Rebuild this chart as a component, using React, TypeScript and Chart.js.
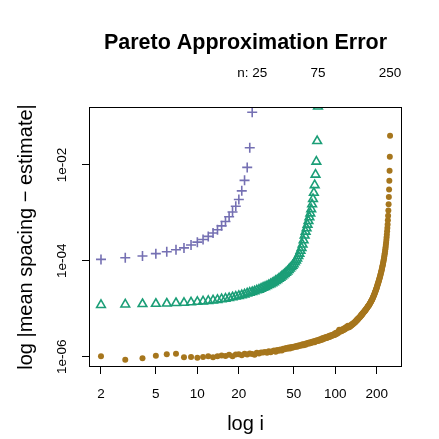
import React, { useEffect, useRef } from "react";
import { Chart, registerables } from "chart.js";

Chart.register(...registerables);

// ---- text ----
const TITLE = "Pareto Approximation Error";
const X_TITLE = "log i";
const Y_TITLE = "log |mean spacing \u2212 estimate|";

// ---- categories / ticks ----
const FIRST_INDEX = 2;
const SAMPLE_SIZES = [25, 75, 250];
const TOP_TICK_LABELS = ["n: 25", "75", "250"];
const X_TICKS = [2, 5, 10, 20, 50, 100, 200];
const X_TICK_LABELS = ["2", "5", "10", "20", "50", "100", "200"];
const Y_TICKS = [1e-6, 1e-4, 1e-2];
const Y_TICK_LABELS = ["1e-06", "1e-04", "1e-02"];
const X_LIMITS = [1.637, 305.2];
const Y_LIMITS_LOG10 = [-6.215, -0.79];

// ---- series: log10 |mean spacing - estimate| for i = 2 .. n ----
const LOG_ERR_N25 = [
  -3.97, -3.935, -3.9, -3.85, -3.81, -3.77, -3.73, -3.67, -3.61, -3.555,
  -3.49, -3.42, -3.35, -3.27, -3.18, -3.08, -2.98, -2.86, -2.72, -2.54,
  -2.32, -2.05, -1.64, -0.9,
];

const LOG_ERR_N75 = [
  -4.92, -4.91, -4.9, -4.895, -4.89, -4.88, -4.875, -4.865, -4.855, -4.845,
  -4.835, -4.825, -4.815, -4.8, -4.79, -4.775, -4.76, -4.745, -4.73, -4.715,
  -4.7, -4.68, -4.665, -4.65, -4.635, -4.615, -4.6, -4.58, -4.56, -4.545,
  -4.525, -4.505, -4.485, -4.465, -4.445, -4.42, -4.4, -4.375, -4.35, -4.325,
  -4.3, -4.275, -4.245, -4.22, -4.19, -4.16, -4.13, -4.1, -4.07, -4.03,
  -3.99, -3.95, -3.9, -3.85, -3.79, -3.73, -3.66, -3.57, -3.47, -3.39,
  -3.32, -3.245, -3.17, -3.09, -3.01, -2.92, -2.82, -2.71, -2.58, -2.42,
  -2.2, -1.93, -1.5, -0.78,
];

const LOG_ERR_N250 = [
  -5.99, -6.065, -6.035, -5.98, -5.95, -5.94, -6.01, -6.005, -6.02, -6.005, -5.99, -6.01, -5.99,
  -5.975, -5.985, -5.96, -5.99, -5.955, -5.95, -5.97, -5.94, -5.955, -5.935,
  -5.945, -5.96, -5.92, -5.935, -5.91, -5.915, -5.9, -5.92, -5.885, -5.905,
  -5.885, -5.87, -5.895, -5.86, -5.875, -5.85, -5.87, -5.835, -5.845, -5.82,
  -5.835, -5.81, -5.83, -5.8, -5.815, -5.795, -5.8, -5.775, -5.79, -5.765,
  -5.775, -5.755, -5.765, -5.74, -5.76, -5.735, -5.75, -5.72, -5.73, -5.71,
  -5.725, -5.7, -5.715, -5.69, -5.7, -5.68, -5.7, -5.665, -5.675, -5.655,
  -5.67, -5.645, -5.66, -5.635, -5.65, -5.62, -5.64, -5.61, -5.625, -5.6,
  -5.615, -5.59, -5.61, -5.585, -5.595, -5.57, -5.59, -5.56, -5.575, -5.55,
  -5.565, -5.54, -5.555, -5.53, -5.545, -5.51, -5.53, -5.5, -5.52, -5.49,
  -5.505, -5.47, -5.44, -5.48, -5.465, -5.45, -5.47, -5.435, -5.455, -5.425,
  -5.445, -5.41, -5.43, -5.4, -5.415, -5.385, -5.4, -5.37, -5.385, -5.355,
  -5.39, -5.37, -5.38, -5.355, -5.365, -5.345, -5.35, -5.325, -5.335, -5.31,
  -5.32, -5.295, -5.3, -5.28, -5.285, -5.265, -5.27, -5.245, -5.25, -5.225,
  -5.235, -5.21, -5.215, -5.19, -5.195, -5.175, -5.175, -5.155, -5.155, -5.13,
  -5.14, -5.115, -5.12, -5.095, -5.1, -5.08, -5.075, -5.06, -5.055, -5.035,
  -5.04, -5.02, -5.02, -5.0, -4.995, -4.985, -4.975, -4.96, -4.95, -4.94,
  -4.935, -4.92, -4.91, -4.895, -4.885, -4.875, -4.86, -4.85, -4.835, -4.82,
  -4.81, -4.795, -4.78, -4.765, -4.75, -4.735, -4.72, -4.7, -4.685, -4.665,
  -4.65, -4.635, -4.615, -4.595, -4.58, -4.56, -4.54, -4.52, -4.5, -4.48,
  -4.46, -4.44, -4.42, -4.4, -4.38, -4.36, -4.335, -4.315, -4.29, -4.27,
  -4.245, -4.22, -4.195, -4.17, -4.145, -4.12, -4.09, -4.065, -4.035, -4.005,
  -3.975, -3.945, -3.91, -3.875, -3.84, -3.8, -3.76, -3.715, -3.67, -3.62,
  -3.565, -3.51, -3.45, -3.385, -3.315, -3.24, -3.155, -3.06, -2.95, -2.82,
  -2.67, -2.51, -2.33, -2.12, -1.83, -1.39,
];

const SERIES_LOGS = [LOG_ERR_N25, LOG_ERR_N75, LOG_ERR_N250];
const SERIES_COLORS = ["#7570B3", "#1B9E77", "#A6761D"];

const FONT = "'Liberation Sans', Arial, Helvetica, sans-serif";

const framePlugin = {
  id: "frame",
  afterDraw(chart: any) {
    const { ctx, chartArea: a } = chart;
    ctx.save();
    ctx.strokeStyle = "#000";
    ctx.lineWidth = 1;
    ctx.strokeRect(a.left + 0.5, a.top + 0.5, a.right - a.left - 1, a.bottom - a.top - 1);
    ctx.restore();
  },
};

export default function App() {
  const canvasRef = useRef<HTMLCanvasElement | null>(null);

  useEffect(() => {
    const canvas = canvasRef.current;
    if (!canvas) return;

    const toPoints = (logs: number[]) =>
      logs.map((v, j) => ({ x: FIRST_INDEX + j, y: Math.pow(10, v) }));

    const datasets: any[] = [
      {
        label: "n = " + SAMPLE_SIZES[0],
        data: toPoints(SERIES_LOGS[0]),
        pointStyle: "cross",
        pointRadius: 5,
        borderColor: SERIES_COLORS[0],
        backgroundColor: SERIES_COLORS[0],
        borderWidth: 1.6,
        clip: 0,
      },
      {
        label: "n = " + SAMPLE_SIZES[1],
        data: toPoints(SERIES_LOGS[1]),
        pointStyle: "triangle",
        pointRadius: 5,
        borderColor: SERIES_COLORS[1],
        backgroundColor: "rgba(0,0,0,0)",
        borderWidth: 1.6,
        clip: 0,
      },
      {
        label: "n = " + SAMPLE_SIZES[2],
        data: toPoints(SERIES_LOGS[2]),
        pointStyle: "circle",
        pointRadius: 3,
        borderColor: SERIES_COLORS[2],
        backgroundColor: SERIES_COLORS[2],
        borderWidth: 0,
        clip: 0,
      },
    ];

    const tickGrid = {
      display: true,
      drawOnChartArea: false,
      drawTicks: true,
      tickLength: 7,
      color: "#000",
      lineWidth: 1,
    };

    const chart = new Chart(canvas, {
      type: "scatter",
      data: { datasets },
      plugins: [framePlugin],
      options: {
        animation: false,
        responsive: false,
        devicePixelRatio: 1,
        events: [],
        layout: { padding: { left: 0, right: 37, top: 0, bottom: 0 } },
        plugins: {
          legend: { display: false },
          title: { display: false },
          tooltip: { enabled: false },
        },
        scales: {
          x: {
            type: "logarithmic",
            position: "bottom",
            min: X_LIMITS[0],
            max: X_LIMITS[1],
            afterFit: (s: any) => {
              s.height = 72;
            },
            afterBuildTicks: (s: any) => {
              s.ticks = X_TICKS.map((v) => ({ value: v }));
            },
            ticks: {
              autoSkip: false,
              minRotation: 0,
              maxRotation: 0,
              padding: 11.9,
              color: "#000",
              font: { family: FONT, size: 13.5 },
              callback: (_v: any, i: number) => X_TICK_LABELS[i],
            },
            grid: tickGrid,
            border: { display: false },
            title: {
              display: true,
              text: X_TITLE,
              color: "#000",
              font: { family: FONT, size: 20 },
              padding: { top: 0, bottom: 2.5 },
            },
          },
          x2: {
            type: "logarithmic",
            position: "top",
            min: X_LIMITS[0],
            max: X_LIMITS[1],
            afterFit: (s: any) => {
              s.height = 107;
            },
            afterBuildTicks: (s: any) => {
              s.ticks = SAMPLE_SIZES.map((v) => ({ value: v }));
            },
            ticks: {
              autoSkip: false,
              minRotation: 0,
              maxRotation: 0,
              padding: 17.9,
              color: "#000",
              font: { family: FONT, size: 13.5 },
              callback: (_v: any, i: number) => TOP_TICK_LABELS[i],
            },
            grid: { display: false },
            border: { display: false },
            title: {
              display: true,
              text: TITLE,
              color: "#000",
              font: { family: FONT, size: 21.5, weight: "bold" },
              padding: { top: 30.2, bottom: 0 },
            },
          },
          y: {
            type: "logarithmic",
            position: "left",
            min: Math.pow(10, Y_LIMITS_LOG10[0]),
            max: Math.pow(10, Y_LIMITS_LOG10[1]),
            afterFit: (s: any) => {
              s.width = 89;
            },
            afterBuildTicks: (s: any) => {
              s.ticks = Y_TICKS.map((v) => ({ value: v }));
            },
            ticks: {
              autoSkip: false,
              minRotation: 90,
              maxRotation: 90,
              crossAlign: "center",
              padding: 2,
              color: "#000",
              font: { family: FONT, size: 13.5 },
              callback: (_v: any, i: number) => Y_TICK_LABELS[i],
            },
            grid: tickGrid,
            border: { display: false },
            title: {
              display: true,
              text: Y_TITLE,
              color: "#000",
              font: { family: FONT, size: 20 },
              padding: { top: 14, bottom: 0 },
            },
          },
        },
      } as any,
    });

    return () => {
      chart.destroy();
    };
  }, []);

  return (
    <div
      style={{
        position: "fixed",
        left: 0,
        top: 0,
        width: 439,
        height: 439,
        background: "#fff",
      }}
    >
      <canvas ref={canvasRef} width={439} height={439} style={{ width: 439, height: 439, display: "block" }} />
    </div>
  );
}
